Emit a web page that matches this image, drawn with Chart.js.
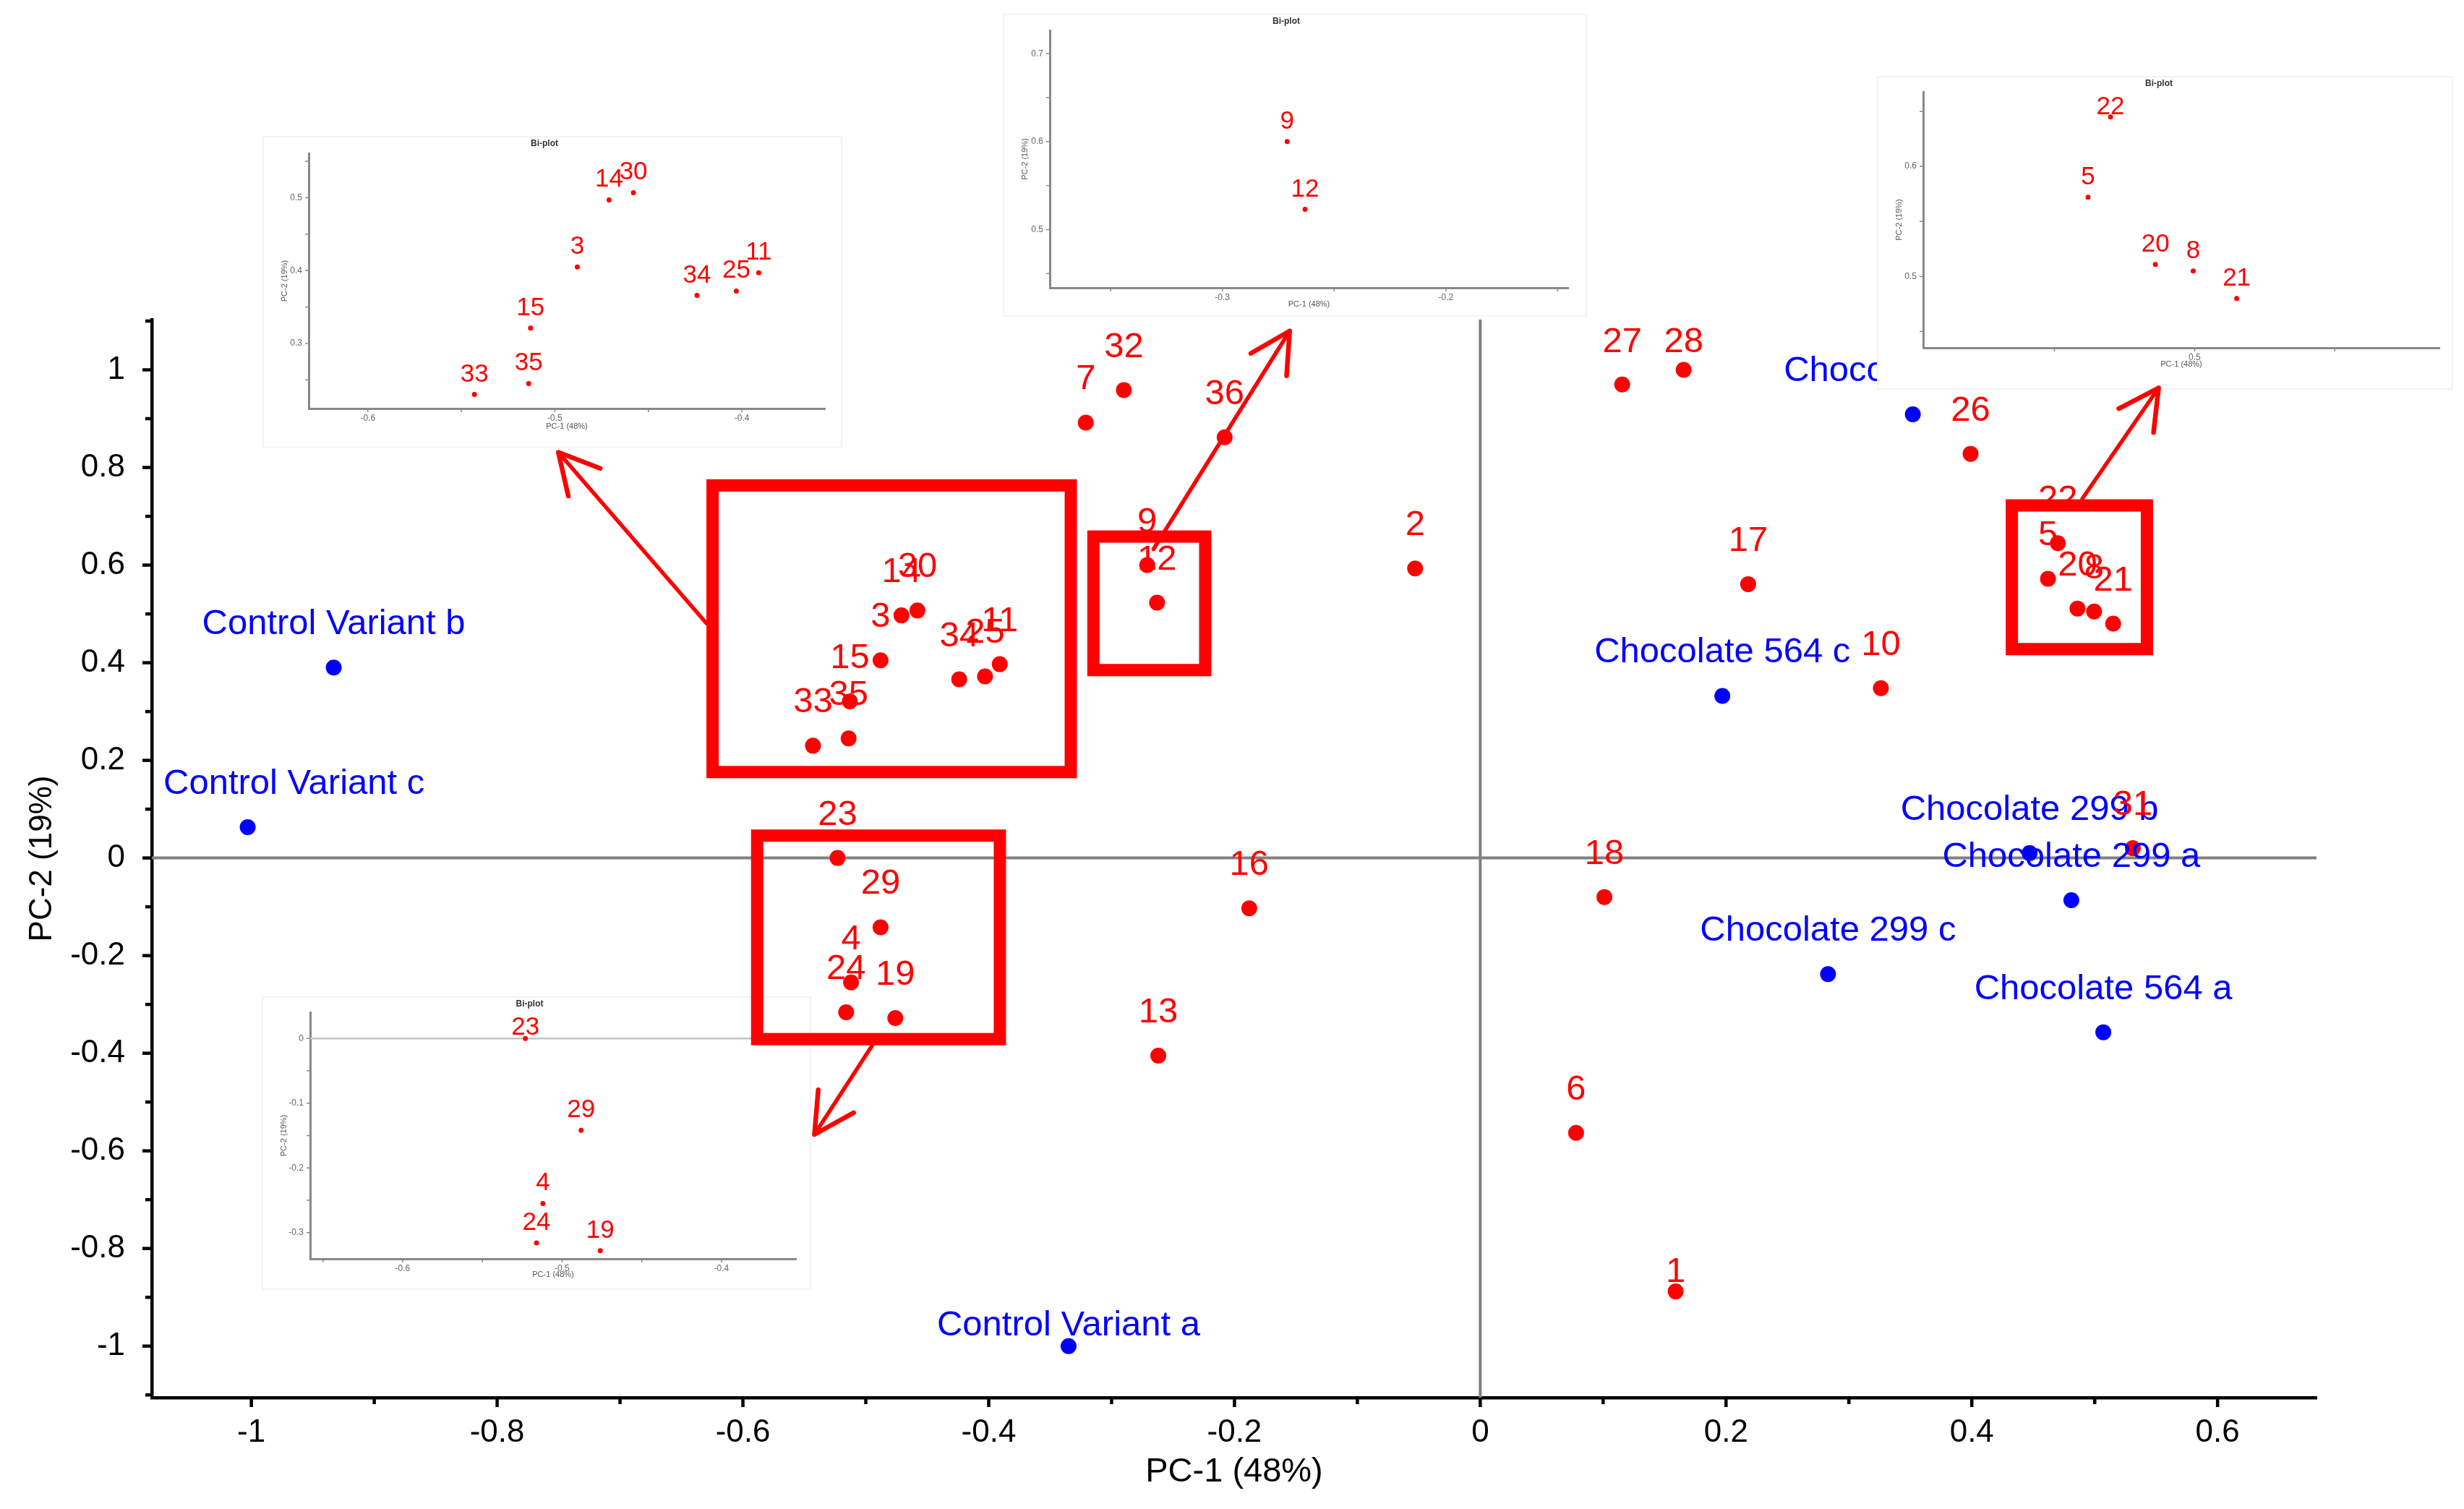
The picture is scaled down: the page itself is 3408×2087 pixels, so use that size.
<!DOCTYPE html>
<html>
<head>
<meta charset="utf-8">
<title>PCA bi-plot</title>
<script src="https://cdn.jsdelivr.net/npm/chart.js@4.4.1/dist/chart.umd.min.js"></script>
<style>
  html, body { margin: 0; padding: 0; background: #fff; }
  #wrap { position: relative; width: 3408px; height: 2087px; overflow: hidden; }
  #wrap canvas { position: absolute; }
  .zoom { background: #fff; box-shadow: 0 0 0 2px #f3f3f3; }
</style>
</head>
<body>
<div id="wrap">
  <canvas id="main" width="3408" height="2087" style="left:0;top:0"></canvas>
  <canvas id="zoomA" class="zoom"></canvas>
  <canvas id="zoomB" class="zoom"></canvas>
  <canvas id="zoomC" class="zoom"></canvas>
  <canvas id="zoomD" class="zoom"></canvas>
  <canvas id="overlay" width="3408" height="2087" style="left:0;top:0"></canvas>
</div>
<script>
// samples (red) - PC-1 / PC-2 scores
const sampleIds = ['1', '2', '3', '4', '5', '6', '7', '8', '9', '10', '11', '12',
  '13', '14', '15', '16', '17', '18', '19', '20', '21', '22', '23', '24',
  '25', '26', '27', '28', '29', '30', '31', '32', '33', '34', '35', '36'];
const sampleX = [0.159, -0.053, -0.488, -0.512, 0.462, 0.078, -0.321, 0.4995, -0.271, 0.326, -0.391, -0.263,
  -0.262, -0.471, -0.513, -0.188, 0.218, 0.101, -0.476, 0.486, 0.515, 0.470, -0.523, -0.516,
  -0.403, 0.399, 0.1155, 0.1655, -0.488, -0.458, 0.531, -0.290, -0.543, -0.424, -0.514, -0.208];
const sampleY = [-0.888, 0.593, 0.405, -0.255, 0.572, -0.563, 0.892, 0.505, 0.600, 0.348, 0.397, 0.523,
  -0.405, 0.497, 0.321, -0.103, 0.561, -0.080, -0.328, 0.511, 0.480, 0.645, 0.000, -0.316,
  0.372, 0.828, 0.970, 1.000, -0.142, 0.507, 0.020, 0.9585, 0.230, 0.366, 0.245, 0.862];

// reference products (blue)
const refNames = ['Control Variant a', 'Control Variant b', 'Control Variant c',
  'Chocolate 564 a', 'Chocolate 564 b', 'Chocolate 564 c',
  'Chocolate 299 a', 'Chocolate 299 b', 'Chocolate 299 c'];
const refX = [-0.335, -0.933, -1.003, 0.507, 0.352, 0.197, 0.481, 0.447, 0.283];
const refY = [-1.000, 0.390, 0.063, -0.357, 0.909, 0.332, -0.0865, 0.010, -0.238];

// main axis ticks
const xMajor = [-1, -0.8, -0.6, -0.4, -0.2, 0, 0.2, 0.4, 0.6];
const xMinor = [-0.9, -0.7, -0.5, -0.3, -0.1, 0.1, 0.3, 0.5];
const yMajor = [-1, -0.8, -0.6, -0.4, -0.2, 0, 0.2, 0.4, 0.6, 0.8, 1];
const yMinor = [-1.1, -0.9, -0.7, -0.5, -0.3, -0.1, 0.1, 0.3, 0.5, 0.7, 0.9, 1.1];

// ticks of the four zoomed insets (A top-left, B top-middle, C top-right, D bottom-left)
const zoomXMajor = [[-0.6, -0.5, -0.4], [-0.3, -0.2], [0.5], [-0.6, -0.5, -0.4]];
const zoomXMinor = [[-0.55, -0.45], [-0.35, -0.25, -0.15], [0.45, 0.55], [-0.65, -0.55, -0.45]];
const zoomYMajor = [[0.3, 0.4, 0.5], [0.5, 0.6, 0.7], [0.5, 0.6], [-0.3, -0.2, -0.1, 0]];
const zoomYMinor = [[0.25, 0.35, 0.45, 0.55], [0.45, 0.55, 0.65], [0.45, 0.55, 0.65], [-0.25, -0.15, -0.05]];

// zoom boxes [x0, y0, x1, y1] and arrows [fromX, fromY, toX, toY], in PC units
const zoomBoxes = [
  [-0.6247, 0.7633, -0.3332, 0.1760],
  [-0.3148, 0.6585, -0.2238, 0.3849],
  [0.4326, 0.7222, 0.5425, 0.4279],
  [-0.5884, 0.0458, -0.3909, -0.3711]
];
const zoomArrows = [
  [-0.6296, 0.4805, -0.7502, 0.8311],
  [-0.2659, 0.6326, -0.1551, 1.0796],
  [0.4900, 0.7363, 0.5520, 0.9630],
  [-0.4920, -0.3730, -0.5418, -0.5664]
];

// labels the original pushed down towards their point (px)
const labelNudge = { '1': 33, 'Control Variant a': 31 };

const fontFamily = '"Liberation Sans", Arial, Helvetica, sans-serif';
Chart.defaults.font.family = fontFamily;

function points(xs, ys) {
  return xs.map((x, i) => ({ x: x, y: ys[i] }));
}

function fmt(v) {
  return String(Math.round(v * 100) / 100);
}

function tickSet(major, minor) {
  return function (scale) {
    scale.ticks = major.map(v => ({ value: v, major: true }))
      .concat(minor.map(v => ({ value: v, major: false })))
      .sort((a, b) => a.value - b.value);
  };
}

function majorLabel(v, i, ticks) {
  return ticks[i].major ? fmt(v) : '';
}

// tick marks with two lengths
const tickMarks = {
  id: 'tickMarks',
  afterDraw(chart, args, opts) {
    const ctx = chart.ctx;
    ctx.save();
    ctx.strokeStyle = opts.color;
    ctx.lineWidth = opts.width;
    ['x', 'y'].forEach(id => {
      const s = chart.scales[id];
      s.ticks.forEach(t => {
        const len = t.major ? opts.major : opts.minor;
        const p = s.getPixelForValue(t.value);
        ctx.beginPath();
        if (id === 'x') {
          ctx.moveTo(p, s.top);
          ctx.lineTo(p, s.top + len);
        } else {
          ctx.moveTo(s.right, p);
          ctx.lineTo(s.right - len, p);
        }
        ctx.stroke();
      });
    });
    ctx.restore();
  }
};

// grey lines through the origin
const zeroLines = {
  id: 'zeroLines',
  beforeDatasetsDraw(chart, args, opts) {
    const ctx = chart.ctx;
    const a = chart.chartArea;
    const x = chart.scales.x, y = chart.scales.y;
    ctx.save();
    ctx.strokeStyle = opts.color;
    ctx.lineWidth = opts.width;
    if (x.min < 0 && x.max > 0) {
      const px = x.getPixelForValue(0);
      ctx.beginPath();
      ctx.moveTo(px, a.top);
      ctx.lineTo(px, a.bottom);
      ctx.stroke();
    }
    if (y.min < 0 && y.max > 0) {
      const py = y.getPixelForValue(0);
      ctx.beginPath();
      ctx.moveTo(a.left, py);
      ctx.lineTo(a.right, py);
      ctx.stroke();
    }
    ctx.restore();
  }
};

// text above every point, kept inside the plot; last dataset first so the red numbers end on top
const pointLabels = {
  id: 'pointLabels',
  afterDatasetsDraw(chart, args, opts) {
    const ctx = chart.ctx;
    const a = chart.chartArea;
    ctx.save();
    ctx.font = opts.size + 'px ' + fontFamily;
    ctx.textAlign = 'center';
    ctx.textBaseline = 'alphabetic';
    for (let d = chart.data.datasets.length - 1; d >= 0; d--) {
      const ds = chart.data.datasets[d];
      ctx.fillStyle = ds.labelColor;
      chart.getDatasetMeta(d).data.forEach((pt, i) => {
        if (opts.inside && (pt.x < a.left || pt.x > a.right || pt.y < a.top || pt.y > a.bottom)) return;
        const text = ds.pointNames[i];
        const half = ctx.measureText(text).width / 2;
        let tx = Math.max(pt.x, a.left + opts.margin + half);
        let ty = pt.y - opts.offset + (opts.nudge ? (labelNudge[text] || 0) : 0);
        ty = Math.max(ty, a.top + opts.topGap);
        ctx.fillText(text, tx, ty);
      });
    }
    ctx.restore();
  }
};

// red boxes and arrows, drawn on a canvas above the insets
const overlayCtx = document.getElementById('overlay').getContext('2d');
const zoomMarks = {
  id: 'zoomMarks',
  afterDraw(chart) {
    const x = chart.scales.x, y = chart.scales.y;
    const ctx = overlayCtx;
    ctx.clearRect(0, 0, 3408, 2087);
    ctx.strokeStyle = '#ff0000';
    ctx.lineWidth = 5.5;
    ctx.lineCap = 'round';
    zoomArrows.forEach(r => {
      const x0 = x.getPixelForValue(r[0]), y0 = y.getPixelForValue(r[1]);
      const x1 = x.getPixelForValue(r[2]), y1 = y.getPixelForValue(r[3]);
      const ang = Math.atan2(y0 - y1, x0 - x1);
      ctx.beginPath();
      ctx.moveTo(x0, y0);
      ctx.lineTo(x1, y1);
      ctx.stroke();
      ctx.lineWidth = 6.5;
      ctx.beginPath();
      [-0.49, 0.49].forEach(da => {
        ctx.moveTo(x1, y1);
        ctx.lineTo(x1 + 62 * Math.cos(ang + da), y1 + 62 * Math.sin(ang + da));
      });
      ctx.stroke();
      ctx.lineWidth = 5.5;
    });
    ctx.lineWidth = 17;
    ctx.lineCap = 'butt';
    ctx.lineJoin = 'miter';
    zoomBoxes.forEach(b => {
      const l = x.getPixelForValue(b[0]), t = y.getPixelForValue(b[1]);
      const r = x.getPixelForValue(b[2]), btm = y.getPixelForValue(b[3]);
      ctx.strokeRect(l, t, r - l, btm - t);
    });
  }
};

new Chart(document.getElementById('main'), {
  type: 'scatter',
  data: {
    datasets: [{
      data: points(sampleX, sampleY),
      pointNames: sampleIds,
      labelColor: '#ff0000',
      backgroundColor: '#ff0000',
      borderWidth: 0,
      pointRadius: 11
    }, {
      data: points(refX, refY),
      pointNames: refNames,
      labelColor: '#0000ff',
      backgroundColor: '#0000ff',
      borderWidth: 0,
      pointRadius: 11
    }]
  },
  options: {
    responsive: false,
    animation: false,
    layout: { padding: { top: 442, right: 204, left: 0, bottom: 0 } },
    plugins: {
      legend: { display: false },
      tooltip: { enabled: false },
      tickMarks: { major: 13, minor: 9, width: 4.5, color: '#000' },
      zeroLines: { color: '#808080', width: 4 },
      pointLabels: { size: 49, offset: 46, inside: false, margin: 16, topGap: 45, nudge: true }
    },
    scales: {
      x: {
        type: 'linear',
        min: -1.081,
        max: 0.6805,
        afterBuildTicks: tickSet(xMajor, xMinor),
        afterFit: s => { s.height = 154; },
        grid: { display: false, drawTicks: true, tickLength: 12 },
        border: { display: true, color: '#000', width: 4.5 },
        ticks: { autoSkip: false, maxRotation: 0, color: '#000', padding: 10, font: { size: 44 }, callback: majorLabel },
        title: { display: true, text: 'PC-1 (48%)', color: '#000', font: { size: 47 }, padding: { top: 0, bottom: 23 } }
      },
      y: {
        type: 'linear',
        min: -1.1056,
        max: 1.103,
        afterBuildTicks: tickSet(yMajor, yMinor),
        afterFit: s => { s.width = 210; },
        grid: { display: false, drawTicks: true, tickLength: 12 },
        border: { display: true, color: '#000', width: 4.5 },
        ticks: { autoSkip: false, color: '#000', padding: 25, font: { size: 44 }, callback: majorLabel },
        title: { display: true, text: 'PC-2 (19%)', color: '#000', font: { size: 44 }, padding: { top: 32, bottom: 0 } }
      }
    }
  },
  plugins: [zeroLines, pointLabels, tickMarks, zoomMarks]
});

// inset placement (pixels) and PC ranges
const insets = [
  { id: 'zoomA', left: 365, top: 190, w: 798, h: 427, plot: [427, 212, 1141, 565], x: [-0.6316, -0.3556], y: [0.2107, 0.561], xTitlePad: 20 },
  { id: 'zoomB', left: 1389, top: 21, w: 804, h: 415, plot: [1452, 42, 2169, 398], x: [-0.3772, -0.1453], y: [0.4338, 0.7265], xTitlePad: 8 },
  { id: 'zoomC', left: 2598, top: 107, w: 793, h: 430, plot: [2660, 127, 3374, 481], x: [0.4032, 0.5873], y: [0.4352, 0.6678], xTitlePad: 26 },
  { id: 'zoomD', left: 364, top: 1380, w: 756, h: 402, plot: [429, 1400, 1101, 1741], x: [-0.658, -0.3532], y: [-0.3405, 0.0405], xTitlePad: 12 }
];

insets.forEach((z, k) => {
  const c = document.getElementById(z.id);
  c.width = z.w;
  c.height = z.h;
  c.style.left = z.left + 'px';
  c.style.top = z.top + 'px';
  const grey = '#888888';
  new Chart(c, {
    type: 'scatter',
    data: {
      datasets: [{
        data: points(sampleX, sampleY),
        pointNames: sampleIds,
        labelColor: '#ff0000',
        backgroundColor: '#ff0000',
        borderWidth: 0,
        pointRadius: 3.5
      }]
    },
    options: {
      responsive: false,
      animation: false,
      layout: { padding: { top: 0, right: z.left + z.w - z.plot[2], left: 0, bottom: 0 } },
      plugins: {
        legend: { display: false },
        tooltip: { enabled: false },
        title: {
          display: true, text: 'Bi-plot', color: '#333',
          font: { size: 12, weight: 'bold' },
          padding: { top: 1, bottom: z.plot[1] - z.top - 15.4 }
        },
        tickMarks: { major: 5, minor: 5, width: 1.5, color: grey },
        zeroLines: { color: '#c4c4c4', width: 2.5 },
        pointLabels: { size: 35, offset: 18, inside: true, margin: 4, topGap: 31, nudge: false }
      },
      scales: {
        x: {
          type: 'linear',
          min: z.x[0],
          max: z.x[1],
          afterBuildTicks: tickSet(zoomXMajor[k], zoomXMinor[k]),
          afterFit: s => { s.height = z.top + z.h - z.plot[3]; },
          grid: { display: false, drawTicks: true, tickLength: 4 },
          border: { display: true, color: grey, width: 3 },
          ticks: { autoSkip: false, maxRotation: 0, color: '#666', padding: 2, font: { size: 12 }, callback: majorLabel },
          title: { display: true, text: 'PC-1 (48%)', color: '#555', font: { size: 11 }, padding: { top: 0, bottom: z.xTitlePad } }
        },
        y: {
          type: 'linear',
          min: z.y[0],
          max: z.y[1],
          afterBuildTicks: tickSet(zoomYMajor[k], zoomYMinor[k]),
          afterFit: s => { s.width = z.plot[0] - z.left; },
          grid: { display: false, drawTicks: true, tickLength: 4 },
          border: { display: true, color: grey, width: 3 },
          ticks: { autoSkip: false, color: '#666', padding: 5, font: { size: 12 }, callback: majorLabel },
          title: { display: true, text: 'PC-2 (19%)', color: '#555', font: { size: 11 }, padding: { top: 22, bottom: 0 } }
        }
      }
    },
    plugins: [zeroLines, pointLabels, tickMarks]
  });
});
</script>
</body>
</html>
